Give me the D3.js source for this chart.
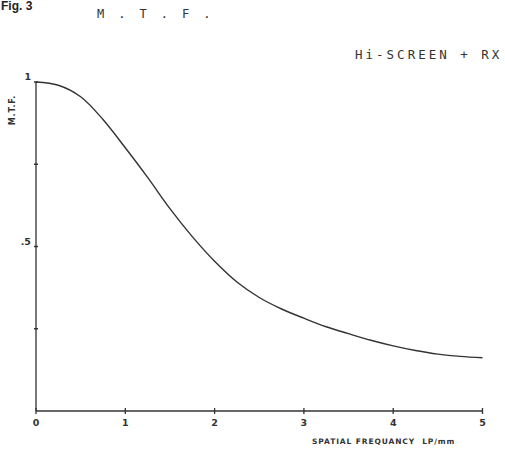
<!DOCTYPE html>
<html>
<head>
<meta charset="utf-8">
<script src="https://cdn.jsdelivr.net/npm/d3@7"></script>
<style>
  body { margin: 0; background: #fff; }
</style>
</head>
<body>
<div id="chart"></div>
<script>
// spatial frequency (LP/mm) and MTF values
const freq = [0, 0.25, 0.5, 0.75, 1, 1.25, 1.5, 1.75, 2, 2.25, 2.5, 2.75, 3, 3.25, 3.5, 3.75, 4, 4.25, 4.5, 4.75, 5];
const mtf = [1.0, 0.99, 0.955, 0.886, 0.80, 0.71, 0.615, 0.53, 0.455, 0.392, 0.345, 0.31, 0.282, 0.256, 0.235, 0.215, 0.198, 0.184, 0.173, 0.166, 0.162];
const xTicks = [0, 1, 2, 3, 4, 5];
const yTicks = [0.25, 0.5, 0.75, 1];
const yTickLabels = { 0.5: ".5", 1: "1" };

const width = 505;
const height = 449;
const margin = { top: 82, right: 22, bottom: 38, left: 36 };

const svg = d3.select("#chart")
  .append("svg")
  .attr("width", width)
  .attr("height", height)
  .style("background-color", "white");

const x = d3.scaleLinear()
  .domain([0, 5])
  .range([margin.left, width - margin.right - 0.5]);

const y = d3.scaleLinear()
  .domain([0, 1])
  .range([height - margin.bottom, margin.top]);

const ink = "#333";
const plotFont = "'DejaVu Sans Mono', monospace";

// corner figure label
svg.append("text")
  .attr("x", 1)
  .attr("y", 10)
  .style("font-family", "'Liberation Sans', sans-serif")
  .style("font-weight", "bold")
  .style("font-size", "12px")
  .attr("fill", "#222")
  .text("Fig. 3");

// title
svg.append("text")
  .attr("x", 97)
  .attr("y", 18)
  .style("font-family", plotFont)
  .style("font-size", "12px")
  .style("letter-spacing", "3.4px")
  .attr("fill", ink)
  .text("M . T . F .");

svg.append("text")
  .attr("x", 355)
  .attr("y", 59)
  .style("font-family", plotFont)
  .style("font-size", "12.5px")
  .style("letter-spacing", "3px")
  .attr("fill", ink)
  .text("Hi-SCREEN + RX");

// axes lines
svg.append("line")
  .attr("x1", x(0)).attr("x2", x(5))
  .attr("y1", y(0)).attr("y2", y(0))
  .attr("stroke", ink).attr("stroke-width", 1.3);

svg.append("line")
  .attr("x1", x(0)).attr("x2", x(0))
  .attr("y1", y(0)).attr("y2", y(1))
  .attr("stroke", ink).attr("stroke-width", 1.3);

// x ticks
svg.selectAll(".xtick")
  .data(xTicks)
  .enter()
  .append("line")
  .attr("class", "xtick")
  .attr("x1", d => x(d)).attr("x2", d => x(d))
  .attr("y1", y(0) - 3).attr("y2", y(0) + 3)
  .attr("stroke", ink).attr("stroke-width", 1.3);

svg.selectAll(".xlabel")
  .data(xTicks)
  .enter()
  .append("text")
  .attr("class", "xlabel")
  .attr("x", d => x(d))
  .attr("y", y(0) + 15)
  .attr("text-anchor", "middle")
  .style("font-family", "'DejaVu Sans', sans-serif")
  .style("font-weight", "bold")
  .style("font-size", "9.5px")
  .attr("fill", ink)
  .text(d => d);

// y ticks
svg.selectAll(".ytick")
  .data(yTicks)
  .enter()
  .append("line")
  .attr("class", "ytick")
  .attr("x1", x(0) - 2).attr("x2", x(0) + 2)
  .attr("y1", d => y(d)).attr("y2", d => y(d))
  .attr("stroke", ink).attr("stroke-width", 1.5);

svg.selectAll(".ylabel")
  .data(yTicks.filter(d => yTickLabels[d]))
  .enter()
  .append("text")
  .attr("class", "ylabel")
  .attr("x", x(0) - 5)
  .attr("y", d => y(d) - 2)
  .attr("text-anchor", "end")
  .style("font-family", "'DejaVu Sans', sans-serif")
  .style("font-weight", "bold")
  .style("font-size", "9.5px")
  .attr("fill", ink)
  .text(d => yTickLabels[d]);

// axis titles
svg.append("text")
  .attr("transform", "rotate(-90)")
  .attr("x", -110)
  .attr("y", 15)
  .attr("text-anchor", "middle")
  .style("font-family", "'DejaVu Sans', sans-serif")
  .style("font-weight", "bold")
  .style("font-size", "8px")
  .style("letter-spacing", "0.8px")
  .attr("fill", ink)
  .text("M.T.F.");

svg.append("text")
  .attr("x", 312)
  .attr("y", 444)
  .style("font-family", "'DejaVu Sans', sans-serif")
  .style("font-weight", "bold")
  .style("font-size", "7.5px")
  .style("letter-spacing", "0.9px")
  .attr("fill", ink)
  .attr("xml:space", "preserve")
  .style("white-space", "pre")
  .text("SPATIAL FREQUANCY  LP/mm");

// curve
const line = d3.line()
  .x((d, i) => x(freq[i]))
  .y(d => y(d))
  .curve(d3.curveCatmullRom.alpha(0.5));

svg.append("path")
  .datum(mtf)
  .attr("d", line)
  .attr("fill", "none")
  .attr("stroke", ink)
  .attr("stroke-width", 1.4);
</script>
</body>
</html>
